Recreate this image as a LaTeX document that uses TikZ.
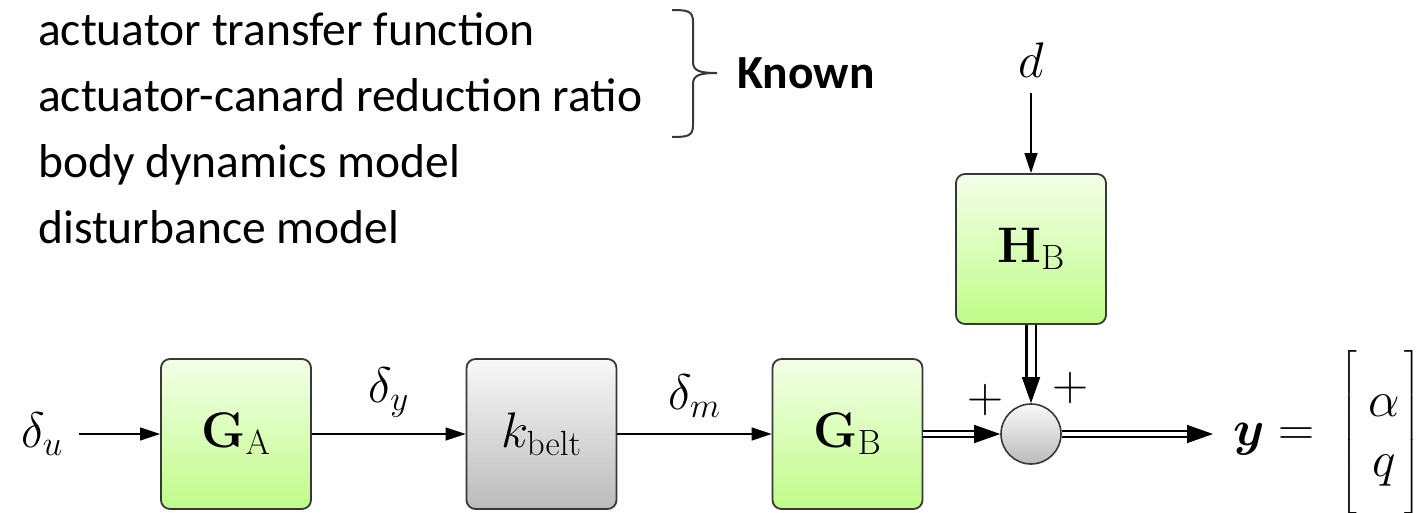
\RequirePackage{fix-cm}
\documentclass[tikz,border=0pt]{standalone}
\usepackage{amsmath}
\usepackage[no-math]{fontspec}
\newfontfamily\notefont{Carlito}
\usetikzlibrary{arrows.meta,calc}

\definecolor{boxtop}{HTML}{F3FFE8}
\definecolor{boxbot}{HTML}{C0FC88}
\definecolor{graytop}{HTML}{F8F8F8}
\definecolor{graybot}{HTML}{BBBBBB}
\definecolor{edge}{HTML}{383838}

\newcommand{\mfont}{\fontsize{50}{60}\selectfont}
\newcommand{\nfont}{\notefont\fontsize{47.5}{57}\selectfont}

\begin{document}
\begin{tikzpicture}[x=1pt,y=-1pt,
  blk/.style={draw=edge, line width=1.8pt, rounded corners=9pt,
    minimum width=150pt, minimum height=150pt, inner sep=0pt, font=\mfont},
  greenblk/.style={blk, top color=boxtop, bottom color=boxbot},
  grayblk/.style={blk, top color=graytop, bottom color=graybot},
  sumnode/.style={circle, draw=edge, line width=1.6pt, minimum size=60pt,
    inner sep=0pt, top color=graytop, bottom color=graybot},
  mlbl/.style={font=\mfont, inner sep=16pt},
  note/.style={font=\nfont, inner sep=0pt},
  arr/.style={line width=1.5pt, -{Triangle[length=20pt,width=13pt]}},
  dtip/.style={line width=1.5pt, -{Triangle[length=26pt,width=18pt]}},
  dblh/.style={line width=2.2pt, double=white, double distance=4.5pt},
  dblv/.style={line width=2.2pt, double=white, double distance=7pt},
]
\useasboundingbox (0,0) rectangle (1416,512);
\clip (0,0) rectangle (1416,512);

% list of model parts
\node[note, anchor=base west] (t1) at (38,45) {actuator transfer function};
\node[note, anchor=base west] (t2) at (38,111) {actuator-canard reduction ratio};
\node[note, anchor=base west] (t3) at (38,177) {body dynamics model};
\node[note, anchor=base west] (t4) at (38,243) {disturbance model};
\node[note, anchor=base west, font=\nfont\bfseries] (known) at (737,88) {Known};

% curly brace grouping the first two lines
\draw[line width=2pt, edge]
  (672,10) .. controls (688,10) and (693,11) .. (693,22) -- (693,62)
  .. controls (693,71) and (700,73) .. (717,73)
  .. controls (700,73) and (693,75) .. (693,84) -- (693,125)
  .. controls (693,136) and (688,137) .. (672,137);

% blocks
\node[greenblk] (GA) at (236,434) {$\mathbf{G}_{\mathrm{A}}$};
\node[grayblk] (kb) at (541.5,434) {$k_{\mathrm{belt}}$};
\node[greenblk] (GB) at (847.5,434) {$\mathbf{G}_{\mathrm{B}}$};
\node[greenblk] (HB) at (1031,249) {$\mathbf{H}_{\mathrm{B}}$};
\node[sumnode] (sum) at (1031,434) {};

% signals
\node[mlbl, anchor=east] (du) at (79,434) {$\delta_u$};
\node[mlbl, anchor=base] (d) at (1031,77) {$d$};
\node[mlbl, inner sep=0pt] (p1) at (985,400) {$+$};
\node[mlbl, inner sep=0pt] (p2) at (1070,388) {$+$};
\node[mlbl, anchor=base west, inner sep=0pt] (yout) at (1233,445)
  {$\boldsymbol{y} = \hspace{12pt}\left[\begin{array}{@{\hspace{12pt}}c@{\hspace{4pt}}}
     \rule{0pt}{64pt}\alpha\\ q\rule[-36pt]{0pt}{36pt}
   \end{array}\right]$};

\coordinate (gbTip) at ($(sum.west)+(-26,0)$);
\coordinate (hbTip) at ($(sum.north)+(0,-26)$);
\coordinate (yTip) at (1187,434);
\coordinate (yEnd) at (1213,434);

% connectors
\draw[arr] (du) -- (GA);
\draw[arr] (GA) -- node[mlbl, above] {$\delta_y$} (kb);
\draw[arr] (kb) -- node[mlbl, above] {$\delta_m$} (GB);
\draw[arr] (d) -- (HB);
\draw[dblh] (GB) -- (gbTip);
\draw[dtip] (gbTip) -- (sum);
\draw[dblv] (HB) -- (hbTip);
\draw[dtip] (hbTip) -- (sum);
\draw[dblh] (sum) -- (yTip);
\draw[dtip] (yTip) -- (yEnd);
\end{tikzpicture}
\end{document}
